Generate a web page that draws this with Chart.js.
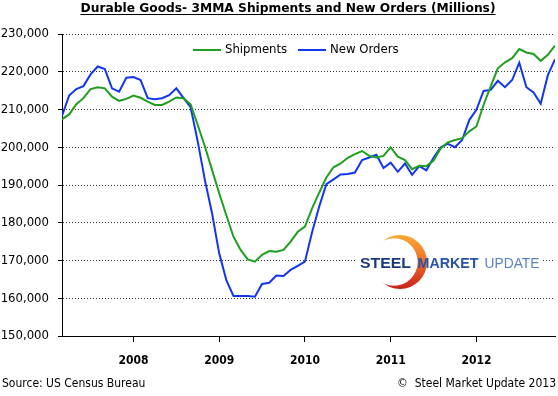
<!DOCTYPE html>
<html>
<head>
<meta charset="utf-8">
<script src="https://cdn.jsdelivr.net/npm/chart.js@4.4.1/dist/chart.umd.min.js"></script>
<style>
    html, body { margin: 0; padding: 0; background: #fff; }
</style>
</head>
<body>
<canvas id="chart" width="558" height="396"></canvas>
<script>
// Durable goods, 3 month moving average, $ millions
// one point per month, Mar 2007 (index 0) to Dec 2012 (index 69)
const shipments = [
    207400, 208700, 211400, 213000, 215400, 215900, 215600, 213400, 212300, 212800,
    213700, 213100, 212100, 211200, 211200, 212100, 213200, 213000, 211400, 205900,
    200200, 194000, 187800, 182000, 176300, 172800, 170300, 169700, 171500, 172500,
    172300, 172800, 175000, 177600, 179000, 183800, 188000, 192000, 194700, 195700,
    197200, 198200, 199000, 197700, 197300, 197700, 200000, 197500, 196600, 194200,
    195100, 195000, 196500, 199700, 201300, 201900, 202400, 204200, 205500, 211200,
    216100, 220900, 222500, 223600, 226000, 225100, 224700, 222900, 224500, 226900
];
const newOrders = [
    208300, 213700, 215400, 216200, 219300, 221400, 220700, 215600, 214700, 218400,
    218600, 217800, 213000, 212700, 213000, 213800, 215600, 213100, 210600, 201500,
    191300, 182500, 171900, 164800, 160600, 160600, 160600, 160400, 163800, 164100,
    166000, 165900, 167500, 168600, 169700, 177500, 184300, 190200, 191500, 192800,
    192900, 193300, 196600, 197300, 198000, 194500, 195900, 193500, 195700, 192700,
    195000, 193900, 197200, 200000, 200900, 200000, 201900, 207200, 209900, 214900,
    215200, 217600, 215900, 217800, 222400, 215900, 214500, 211500, 219100, 223300
];
const seriesNames = ["Shipments", "New Orders"];
const seriesColors = ["#1f9e1f", "#1236ee"];

// year ticks sit on January of each year
const yearLabels = ["2008", "2009", "2010", "2011", "2012"];
const yearTickIndex = [10, 22, 34, 46, 58];

const yMin = 150000;
const yMax = 230000;
const yStep = 10000;

const titleText = "Durable Goods- 3MMA Shipments and New Orders (Millions)";
const sourceText = "Source: US Census Bureau";
const copyText = "\u00A9  Steel Market Update 2013";

const FONT = "'DejaVu Sans Condensed', 'DejaVu Sans', sans-serif";

function toPoints(values) {
    return values.map((v, i) => ({ x: i, y: v }));
}

// draw text squeezed or stretched to a given width
function fitText(ctx, text, x, y, width, font, color) {
    ctx.save();
    ctx.font = font;
    ctx.fillStyle = color;
    ctx.textAlign = "left";
    ctx.textBaseline = "alphabetic";
    const w = ctx.measureText(text).width;
    ctx.translate(x, y);
    ctx.scale(width / w, 1);
    ctx.fillText(text, 0, 0);
    ctx.restore();
}

function drawLogo(ctx) {
    ctx.save();
    ctx.fillStyle = "#fff";
    ctx.fillRect(357, 233, 184, 58);

    // orange crescent behind the S
    ctx.beginPath();
    ctx.arc(400, 262, 27, 0, Math.PI * 2);
    ctx.clip();
    const grad = ctx.createLinearGradient(0, 235, 0, 289);
    grad.addColorStop(0, "#f8aa35");
    grad.addColorStop(0.5, "#ef6d28");
    grad.addColorStop(1, "#c6221c");
    ctx.fillStyle = grad;
    ctx.beginPath();
    ctx.rect(368, 230, 70, 66);
    ctx.arc(394, 262, 23.7, 0, Math.PI * 2, true);
    ctx.fill("evenodd");
    ctx.restore();

    fitText(ctx, "STEEL", 360, 267.5, 51, "bold 15px 'Liberation Sans', Arial, sans-serif", "#1b3a7a");
    fitText(ctx, "MARKET", 417.5, 267.5, 61, "bold 15px 'Liberation Sans', Arial, sans-serif", "#2852a2");
    fitText(ctx, "UPDATE", 484.5, 267.5, 55, "15px 'Liberation Sans', Arial, sans-serif", "#5a84c4");
}

const decorations = {
    id: "decorations",
    afterDraw(chart) {
        const ctx = chart.ctx;

        // title, bold and underlined
        ctx.save();
        const titleW = 415;
        const tx = 288 - titleW / 2;
        fitText(ctx, titleText, tx, 12, titleW, "bold 13px " + FONT, "#000");
        ctx.strokeStyle = "#000";
        ctx.lineWidth = 1;
        ctx.beginPath();
        ctx.moveTo(tx, 14.5);
        ctx.lineTo(tx + titleW, 14.5);
        ctx.stroke();
        ctx.restore();

        // legend inside the plot
        const legendX = [193, 298];
        ctx.save();
        ctx.font = "13px " + FONT;
        ctx.textBaseline = "middle";
        chart.data.datasets.forEach((ds, i) => {
            ctx.strokeStyle = ds.borderColor;
            ctx.lineWidth = 2;
            ctx.beginPath();
            ctx.moveTo(legendX[i], 50);
            ctx.lineTo(legendX[i] + 28, 50);
            ctx.stroke();
            ctx.fillStyle = "#000";
            ctx.fillText(ds.label, legendX[i] + 32, 50);
        });
        ctx.restore();

        // footer
        ctx.save();
        ctx.font = "12px " + FONT;
        ctx.fillStyle = "#000";
        ctx.textBaseline = "middle";
        ctx.textAlign = "left";
        ctx.fillText(sourceText, 2, 384);
        ctx.textAlign = "right";
        ctx.fillText(copyText, 556, 384);
        ctx.restore();

        drawLogo(ctx);
    }
};

new Chart(document.getElementById("chart").getContext("2d"), {
    type: "line",
    data: {
        datasets: [
            {
                label: seriesNames[0],
                data: toPoints(shipments),
                borderColor: seriesColors[0],
                backgroundColor: seriesColors[0],
                borderWidth: 2,
                pointRadius: 0,
                tension: 0
            },
            {
                label: seriesNames[1],
                data: toPoints(newOrders),
                borderColor: seriesColors[1],
                backgroundColor: seriesColors[1],
                borderWidth: 2,
                pointRadius: 0,
                tension: 0
            }
        ]
    },
    options: {
        responsive: false,
        animation: false,
        layout: { padding: { top: 34, right: 3, left: 0, bottom: 0 } },
        plugins: {
            legend: { display: false },
            title: { display: false },
            tooltip: { enabled: false }
        },
        scales: {
            x: {
                type: "linear",
                min: 0,
                max: shipments.length - 1,
                afterBuildTicks: scale => {
                    scale.ticks = yearTickIndex.map(v => ({ value: v }));
                },
                afterFit: scale => { scale.height = 60; },
                ticks: {
                    autoSkip: false,
                    maxRotation: 0,
                    color: "#000",
                    padding: 12,
                    font: { family: FONT, size: 12, weight: "bold" },
                    callback: (value, index) => yearLabels[index]
                },
                grid: {
                    drawOnChartArea: false,
                    drawTicks: true,
                    tickLength: 6,
                    tickColor: "#000"
                },
                border: { color: "#000", width: 1 }
            },
            y: {
                min: yMin,
                max: yMax,
                afterFit: scale => { scale.width = 62; },
                ticks: {
                    stepSize: yStep,
                    color: "#000",
                    padding: 9,
                    font: { family: FONT, size: 13 },
                    callback: v => v.toLocaleString("en-US")
                },
                grid: {
                    color: "#333",
                    lineWidth: 1,
                    tickLength: 4,
                    tickColor: "#000"
                },
                border: { color: "#000", width: 1, dash: [1, 2] }
            }
        }
    },
    plugins: [decorations]
});
</script>
</body>
</html>
